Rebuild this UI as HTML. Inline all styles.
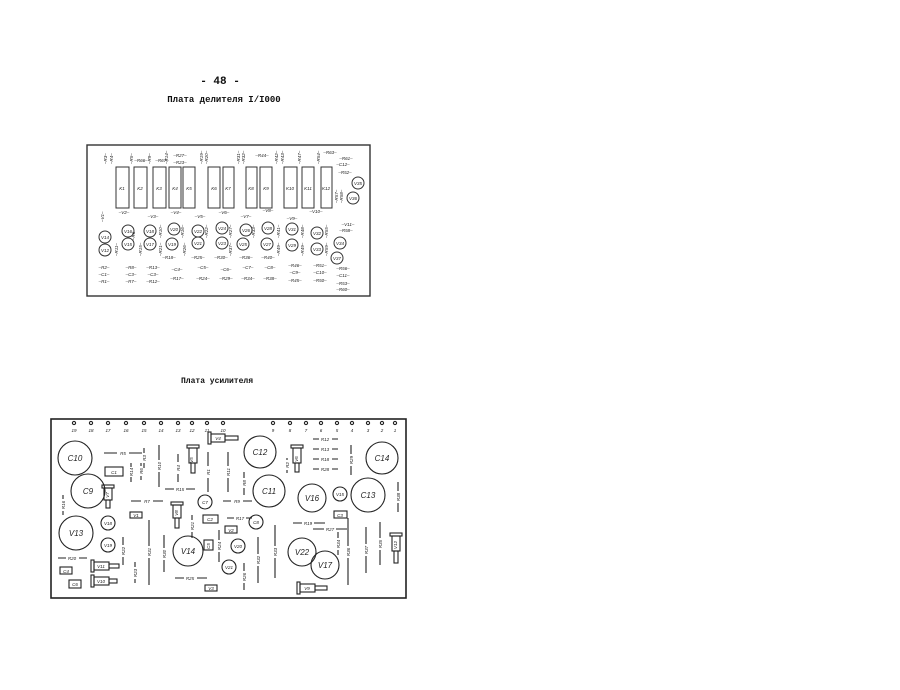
<!DOCTYPE html>
<html><head><meta charset="utf-8"><style>
html,body{margin:0;padding:0;background:#fff;}
svg{display:block;}
text{font-family:"Liberation Sans",sans-serif;font-style:italic;fill:#222;}
.h{font-family:"Liberation Mono","DejaVu Sans Mono",monospace;font-style:normal;font-weight:bold;fill:#111;}
.s{font-size:4.5px;}
.m{font-size:7px;}
.c{font-size:8px;}
</style></head><body>
<svg width="900" height="690" viewBox="0 0 900 690" xmlns="http://www.w3.org/2000/svg">
<rect width="900" height="690" fill="#fff"/>
<text class="h" x="220" y="84" font-size="11" text-anchor="middle">- 48 -</text>
<text class="h" x="224" y="102" font-size="9" text-anchor="middle">Плата делителя I/I000</text>
<text class="h" x="217" y="383" font-size="8" text-anchor="middle">Плата усилителя</text>

<!-- TOP BOARD -->
<g stroke="#333" fill="none" stroke-width="1.4">
<rect x="87" y="145" width="283" height="151"/>
</g>
<g stroke="#333" fill="none" stroke-width="1">
<rect x="116" y="167" width="13" height="41"/><rect x="134" y="167" width="13" height="41"/>
<rect x="153" y="167" width="13" height="41"/><rect x="169" y="167" width="12" height="41"/>
<rect x="183" y="167" width="12" height="41"/><rect x="208" y="167" width="12" height="41"/>
<rect x="223" y="167" width="11" height="41"/><rect x="246" y="167" width="11" height="41"/>
<rect x="260" y="167" width="12" height="41"/><rect x="284" y="167" width="13" height="41"/>
<rect x="302" y="167" width="12" height="41"/><rect x="321" y="167" width="11" height="41"/>
<circle cx="105" cy="237" r="6"/><circle cx="105" cy="250" r="6"/>
<circle cx="128" cy="231" r="6"/><circle cx="128" cy="244" r="6"/>
<circle cx="150" cy="231" r="6"/><circle cx="150" cy="244" r="6"/>
<circle cx="174" cy="229" r="6"/><circle cx="172" cy="244" r="6"/>
<circle cx="198" cy="231" r="6"/><circle cx="198" cy="243" r="6"/>
<circle cx="222" cy="228" r="6"/><circle cx="222" cy="243" r="6"/>
<circle cx="246" cy="230" r="6"/><circle cx="243" cy="244" r="6"/>
<circle cx="268" cy="228" r="6"/><circle cx="267" cy="244" r="6"/>
<circle cx="292" cy="229" r="6"/><circle cx="292" cy="245" r="6"/>
<circle cx="317" cy="233" r="6"/><circle cx="317" cy="249" r="6"/>
<circle cx="340" cy="243" r="6"/><circle cx="337" cy="258" r="6"/>
<circle cx="358" cy="183" r="6"/><circle cx="353" cy="198" r="6"/>
</g>
<g class="s" text-anchor="middle">
<text x="122" y="190">K1</text><text x="140" y="190">K2</text><text x="159" y="190">K3</text>
<text x="175" y="190">K4</text><text x="189" y="190">K5</text><text x="214" y="190">K6</text>
<text x="228" y="190">K7</text><text x="251" y="190">K8</text><text x="266" y="190">K9</text>
<text x="290" y="190">K10</text><text x="308" y="190">K11</text><text x="326" y="190">K12</text>
<text x="105" y="239">V14</text><text x="105" y="252">V12</text><text x="128" y="233">V16</text><text x="128" y="246">V15</text>
<text x="150" y="233">V18</text><text x="150" y="246">V17</text><text x="174" y="231">V20</text><text x="172" y="246">V19</text>
<text x="198" y="233">V22</text><text x="198" y="245">V21</text><text x="222" y="230">V24</text><text x="222" y="245">V23</text>
<text x="246" y="232">V26</text><text x="243" y="246">V25</text><text x="268" y="230">V28</text><text x="267" y="246">V27</text>
<text x="292" y="231">V31</text><text x="292" y="247">V29</text><text x="317" y="235">V32</text><text x="317" y="251">V33</text>
<text x="340" y="245">V34</text><text x="337" y="260">V37</text><text x="358" y="185">V35</text><text x="353" y="200">V36</text>
<text x="124" y="214">–V2–</text><text x="153" y="218">–V3–</text><text x="176" y="214">–V4–</text>
<text x="200" y="218">–V5–</text><text x="224" y="214">–V6–</text><text x="246" y="218">–V7–</text>
<text x="268" y="212">–V8–</text><text x="292" y="220">–V9–</text><text x="316" y="213">–V10–</text>
<text x="104" y="269">–R2–</text><text x="104" y="276">–C1–</text><text x="104" y="283">–R1–</text>
<text x="131" y="269">–R8–</text><text x="131" y="276">–C3–</text><text x="131" y="283">–R7–</text>
<text x="153" y="269">–R13–</text><text x="153" y="276">–C3–</text><text x="153" y="283">–R12–</text>
<text x="177" y="271">–C4–</text><text x="177" y="280">–R17–</text>
<text x="203" y="269">–C5–</text><text x="203" y="280">–R24–</text>
<text x="226" y="271">–C6–</text><text x="226" y="280">–R29–</text>
<text x="248" y="269">–C7–</text><text x="248" y="280">–R34–</text>
<text x="270" y="269">–C8–</text><text x="270" y="280">–R38–</text>
<text x="295" y="267">–R46–</text><text x="295" y="274">–C9–</text><text x="295" y="282">–R45–</text>
<text x="320" y="267">–R51–</text><text x="320" y="274">–C10–</text><text x="320" y="282">–R50–</text>
<text x="343" y="270">–R56–</text><text x="343" y="277">–C11–</text><text x="343" y="285">–R53–</text><text x="343" y="291">–R60–</text>
<text x="169" y="259">–R18–</text><text x="198" y="259">–R25–</text><text x="221" y="259">–R30–</text>
<text x="246" y="259">–R36–</text><text x="268" y="259">–R40–</text>
<text x="180" y="157">–R27–</text><text x="180" y="164">–R23–</text><text x="262" y="157">–R44–</text>
<text x="141" y="162">–R66–</text><text x="162" y="162">–R67–</text>
<text x="330" y="154">–R63–</text><text x="346" y="160">–R61–</text><text x="343" y="166">–C12–</text><text x="345" y="174">–R52–</text>
<text x="348" y="226">–V11–</text><text x="346" y="232">–R58–</text>
</g>
<g class="s">
<text transform="translate(107,164) rotate(-90)">–R3–</text><text transform="translate(113,164) rotate(-90)">–R4–</text>
<text transform="translate(133,164) rotate(-90)">–R5–</text><text transform="translate(151,164) rotate(-90)">–R9–</text>
<text transform="translate(168,164) rotate(-90)">–R14–</text><text transform="translate(203,164) rotate(-90)">–R19–</text>
<text transform="translate(208,164) rotate(-90)">–R20–</text><text transform="translate(240,164) rotate(-90)">–R31–</text>
<text transform="translate(245,164) rotate(-90)">–R32–</text><text transform="translate(278,164) rotate(-90)">–R42–</text>
<text transform="translate(284,164) rotate(-90)">–R43–</text><text transform="translate(301,164) rotate(-90)">–R47–</text>
<text transform="translate(320,164) rotate(-90)">–R54–</text>
<text transform="translate(104,222) rotate(-90)">–V1–</text>
<text transform="translate(338,203) rotate(-90)">–R57–</text><text transform="translate(343,203) rotate(-90)">–R58–</text>
<text transform="translate(135,240) rotate(-90)">–R6–</text><text transform="translate(162,238) rotate(-90)">–R10–</text>
<text transform="translate(184,238) rotate(-90)">–R16–</text><text transform="translate(208,238) rotate(-90)">–R22–</text>
<text transform="translate(232,238) rotate(-90)">–R27–</text><text transform="translate(255,238) rotate(-90)">–R33–</text>
<text transform="translate(280,238) rotate(-90)">–R41–</text><text transform="translate(304,238) rotate(-90)">–R48–</text>
<text transform="translate(328,238) rotate(-90)">–R55–</text>
<text transform="translate(118,256) rotate(-90)">–R11–</text><text transform="translate(142,256) rotate(-90)">–R15–</text>
<text transform="translate(162,256) rotate(-90)">–R21–</text><text transform="translate(186,256) rotate(-90)">–R26–</text>
<text transform="translate(232,256) rotate(-90)">–R37–</text><text transform="translate(280,256) rotate(-90)">–R49–</text>
<text transform="translate(304,256) rotate(-90)">–R49–</text><text transform="translate(328,256) rotate(-90)">–R59–</text>
</g>

<!-- BOTTOM BOARD -->
<rect x="51" y="419" width="355" height="179" fill="none" stroke="#222" stroke-width="1.6"/>
<g stroke="#222" fill="none" stroke-width="1.1">
<circle cx="75" cy="458" r="17"/><circle cx="88" cy="491" r="17"/><circle cx="76" cy="533" r="17"/>
<circle cx="260" cy="452" r="16"/><circle cx="269" cy="491" r="16"/><circle cx="312" cy="498" r="14"/>
<circle cx="368" cy="495" r="17"/><circle cx="382" cy="458" r="16"/><circle cx="188" cy="551" r="15"/>
<circle cx="302" cy="552" r="14"/><circle cx="325" cy="565" r="14"/>
<circle cx="108" cy="523" r="7"/><circle cx="108" cy="545" r="7"/><circle cx="205" cy="502" r="7"/>
<circle cx="256" cy="522" r="7"/><circle cx="238" cy="546" r="7"/><circle cx="229" cy="567" r="7"/><circle cx="340" cy="494" r="7"/>
<rect x="105" y="467" width="18" height="9"/><rect x="130" y="512" width="12" height="6"/>
<rect x="203" y="515" width="15" height="8"/><rect x="225" y="526" width="12" height="7"/>
<rect x="334" y="511" width="13" height="7"/><rect x="60" y="567" width="12" height="7"/>
<rect x="69" y="580" width="12" height="8"/><rect x="205" y="585" width="12" height="6"/>
<rect x="204" y="540" width="9" height="10"/>
<circle cx="74" cy="423" r="1.6"/><circle cx="91" cy="423" r="1.6"/><circle cx="108" cy="423" r="1.6"/>
<circle cx="126" cy="423" r="1.6"/><circle cx="144" cy="423" r="1.6"/><circle cx="161" cy="423" r="1.6"/>
<circle cx="178" cy="423" r="1.6"/><circle cx="192" cy="423" r="1.6"/><circle cx="207" cy="423" r="1.6"/>
<circle cx="223" cy="423" r="1.6"/><circle cx="273" cy="423" r="1.6"/><circle cx="290" cy="423" r="1.6"/>
<circle cx="306" cy="423" r="1.6"/><circle cx="321" cy="423" r="1.6"/><circle cx="337" cy="423" r="1.6"/>
<circle cx="352" cy="423" r="1.6"/><circle cx="368" cy="423" r="1.6"/><circle cx="382" cy="423" r="1.6"/><circle cx="395" cy="423" r="1.6"/>
<rect x="187" y="445" width="12" height="3"/><rect x="189" y="448" width="8" height="15"/><rect x="191" y="463" width="4" height="10"/>
<rect x="291" y="445" width="12" height="3"/><rect x="293" y="448" width="8" height="15"/><rect x="295" y="463" width="4" height="9"/>
<rect x="102" y="485" width="12" height="3"/><rect x="104" y="488" width="8" height="12"/><rect x="106" y="500" width="4" height="8"/>
<rect x="171" y="502" width="12" height="3"/><rect x="173" y="505" width="8" height="13"/><rect x="175" y="518" width="4" height="10"/>
<rect x="390" y="533" width="12" height="3"/><rect x="392" y="536" width="8" height="15"/><rect x="394" y="551" width="4" height="12"/>
<rect x="208" y="432" width="3" height="12"/><rect x="211" y="434" width="14" height="8"/><rect x="225" y="436" width="13" height="4"/>
<rect x="91" y="560" width="3" height="12"/><rect x="94" y="562" width="15" height="8"/><rect x="109" y="564" width="10" height="4"/>
<rect x="91" y="575" width="3" height="12"/><rect x="94" y="577" width="15" height="8"/><rect x="109" y="579" width="8" height="4"/>
<rect x="297" y="582" width="3" height="12"/><rect x="300" y="584" width="15" height="8"/><rect x="315" y="586" width="12" height="4"/>
<path d="M131 463V482M141 463V480M144 448V468M159 445V487M178 454V482M208 452V492M228 452V492M287 458V473M244 472V495M351 445V475M398 482V512M63 495V515M192 515V538M219 530V562M123 537V565M135 562V583M149 520V585M164 535V572M244 563V590M258 537V583M275 525V578M338 532V555M348 518V585M366 527V573M380 522V565"/>
<path d="M104 453H142M131 501H163M165 489H195M223 501H252M227 518H252M293 523H325M313 529H347M313 439H338M313 449H338M313 459H338M313 469H338M58 558H87M175 578H207"/>
</g>
<g fill="#fff" stroke="none">
<rect x="117" y="450" width="12" height="6"/><rect x="141" y="498" width="12" height="6"/><rect x="174" y="486" width="12" height="6"/>
<rect x="231" y="498" width="12" height="6"/><rect x="234" y="515" width="12" height="6"/><rect x="302" y="520" width="12" height="6"/>
<rect x="324" y="526" width="12" height="6"/><rect x="319" y="436" width="13" height="6"/><rect x="319" y="446" width="13" height="6"/>
<rect x="319" y="456" width="13" height="6"/><rect x="319" y="466" width="13" height="6"/><rect x="66" y="555" width="13" height="6"/><rect x="184" y="575" width="13" height="6"/>
<rect x="129" y="467" width="4" height="10"/><rect x="139" y="466" width="4" height="10"/><rect x="142" y="453" width="4" height="10"/>
<rect x="157" y="460" width="4" height="12"/><rect x="176" y="462" width="4" height="12"/><rect x="206" y="466" width="4" height="12"/>
<rect x="226" y="466" width="4" height="12"/><rect x="285" y="460" width="4" height="10"/><rect x="242" y="478" width="4" height="10"/>
<rect x="349" y="454" width="4" height="12"/><rect x="396" y="491" width="4" height="12"/><rect x="61" y="499" width="4" height="12"/>
<rect x="190" y="520" width="4" height="12"/><rect x="217" y="540" width="4" height="12"/><rect x="121" y="545" width="4" height="12"/>
<rect x="133" y="567" width="4" height="12"/><rect x="147" y="546" width="4" height="12"/><rect x="162" y="548" width="4" height="12"/>
<rect x="242" y="571" width="4" height="12"/><rect x="256" y="554" width="4" height="12"/><rect x="273" y="546" width="4" height="12"/>
<rect x="336" y="538" width="4" height="12"/><rect x="346" y="546" width="4" height="12"/><rect x="364" y="544" width="4" height="12"/><rect x="378" y="538" width="4" height="12"/>
</g>
<g class="c" text-anchor="middle">
<text x="75" y="461">C10</text><text x="88" y="494">C9</text><text x="76" y="536">V13</text>
<text x="260" y="455">C12</text><text x="269" y="494">C11</text><text x="312" y="501">V16</text>
<text x="368" y="498">C13</text><text x="382" y="461">C14</text><text x="188" y="554">V14</text>
<text x="302" y="555">V22</text><text x="325" y="568">V17</text>
</g>
<g class="s" text-anchor="middle">
<text x="108" y="525">V18</text><text x="108" y="547">V19</text><text x="205" y="504">C7</text><text x="256" y="524">C8</text>
<text x="238" y="548">V20</text><text x="229" y="569">V21</text><text x="340" y="496">V15</text>
<text x="114" y="474">C1</text><text x="136" y="517">V1</text><text x="210" y="521">C2</text><text x="231" y="532">V2</text>
<text x="340" y="517">C3</text><text x="66" y="573">C4</text><text x="75" y="586">C6</text><text x="211" y="590">V3</text>
<text x="218" y="440">V4</text><text x="101" y="568">V11</text><text x="101" y="583">V10</text><text x="307" y="590">V9</text>
<text x="123" y="455">R5</text><text x="147" y="503">R7</text><text x="180" y="491">R15</text><text x="237" y="503">R9</text>
<text x="240" y="520">R17</text><text x="308" y="525">R19</text><text x="330" y="531">R27</text>
<text x="325" y="441">R12</text><text x="325" y="451">R13</text><text x="325" y="461">R18</text><text x="325" y="471">R28</text>
<text x="72" y="560">R20</text><text x="190" y="580">R25</text>
<text x="74" y="432">19</text><text x="91" y="432">18</text><text x="108" y="432">17</text><text x="126" y="432">16</text>
<text x="144" y="432">15</text><text x="161" y="432">14</text><text x="178" y="432">13</text><text x="192" y="432">12</text>
<text x="207" y="432">11</text><text x="223" y="432">10</text><text x="273" y="432">9</text><text x="290" y="432">8</text>
<text x="306" y="432">7</text><text x="321" y="432">6</text><text x="337" y="432">5</text><text x="352" y="432">4</text>
<text x="368" y="432">3</text><text x="382" y="432">2</text><text x="395" y="432">1</text>
</g>
<g class="s" text-anchor="middle">
<text transform="translate(193,460) rotate(-90)">V5</text><text transform="translate(298,459) rotate(-90)">V6</text>
<text transform="translate(109,495) rotate(-90)">V7</text><text transform="translate(178,513) rotate(-90)">V8</text>
<text transform="translate(397,545) rotate(-90)">V12</text><text transform="translate(210,546) rotate(-90)">C5</text>
<text transform="translate(133,472) rotate(-90)">R14</text><text transform="translate(143,471) rotate(-90)">R6</text>
<text transform="translate(146,458) rotate(-90)">R3</text><text transform="translate(161,466) rotate(-90)">R10</text>
<text transform="translate(180,468) rotate(-90)">R4</text><text transform="translate(210,472) rotate(-90)">R1</text>
<text transform="translate(230,472) rotate(-90)">R11</text><text transform="translate(289,465) rotate(-90)">R2</text>
<text transform="translate(246,483) rotate(-90)">R8</text><text transform="translate(353,460) rotate(-90)">R29</text>
<text transform="translate(400,497) rotate(-90)">R38</text><text transform="translate(65,505) rotate(-90)">R16</text>
<text transform="translate(194,526) rotate(-90)">R21</text><text transform="translate(221,546) rotate(-90)">R24</text>
<text transform="translate(125,551) rotate(-90)">R22</text><text transform="translate(137,573) rotate(-90)">R23</text>
<text transform="translate(151,552) rotate(-90)">R31</text><text transform="translate(166,554) rotate(-90)">R30</text>
<text transform="translate(246,577) rotate(-90)">R26</text><text transform="translate(260,560) rotate(-90)">R32</text>
<text transform="translate(277,552) rotate(-90)">R33</text><text transform="translate(340,544) rotate(-90)">R34</text>
<text transform="translate(350,552) rotate(-90)">R36</text><text transform="translate(368,550) rotate(-90)">R37</text>
<text transform="translate(382,544) rotate(-90)">R35</text>
</g>
</svg>
</body></html>
